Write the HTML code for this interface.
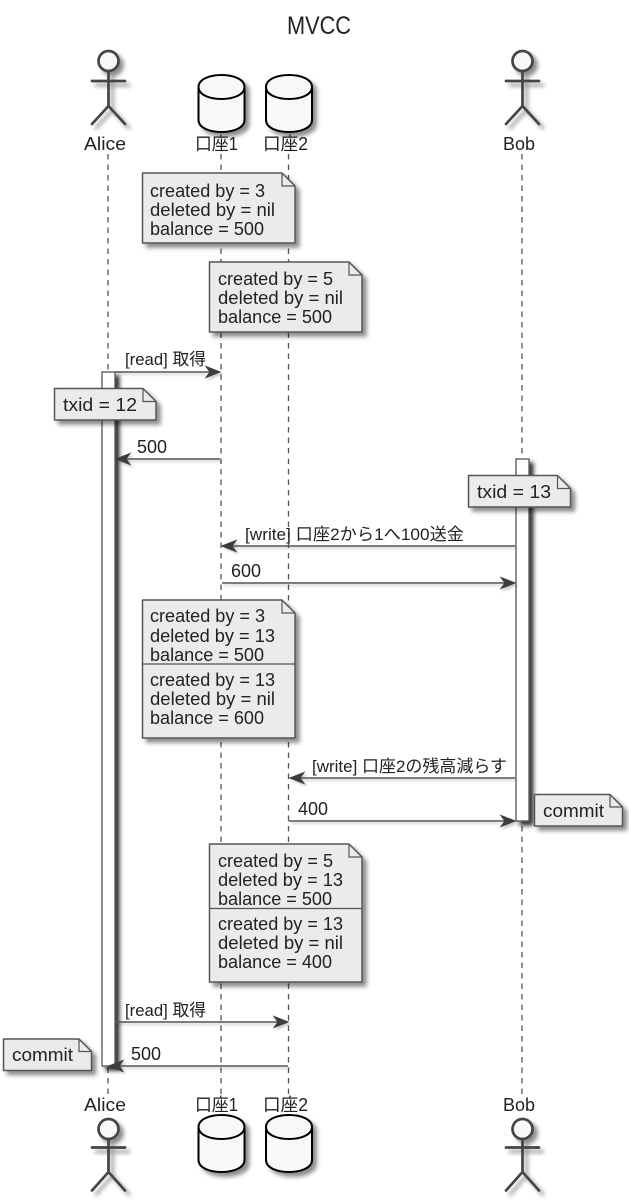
<!DOCTYPE html>
<html><head><meta charset="utf-8"><title>MVCC</title>
<style>
html,body{margin:0;padding:0;background:#fff}
svg{display:block}
text{font-family:"Liberation Sans","Noto Sans CJK JP",sans-serif;fill:#222;font-size:18px}
.ll{stroke:#555;stroke-width:1.3;stroke-dasharray:5.5,5;fill:none}
.n{fill:#ebebeb;stroke:#555;stroke-width:1.5;stroke-linejoin:round}
.f{fill:none;stroke:#555;stroke-width:1.2}
.a{fill:#fff;stroke:#555;stroke-width:1.3}
.m{stroke:#555;stroke-width:1.5;fill:none}
.h{fill:#3c3c3c;stroke:#3c3c3c;stroke-width:1}
.act{fill:#f8f8f8;stroke:#444;stroke-width:2.7;stroke-linecap:round}
.db{fill:#f8f8f8;stroke:#000;stroke-width:2}
.t{font-size:17px}
.v{font-size:18px}
</style></head>
<body>
<svg width="629" height="1200" viewBox="0 0 629 1200" xmlns="http://www.w3.org/2000/svg">
<defs>
<filter id="s" x="-30%" y="-30%" width="170%" height="170%"><feDropShadow dx="4" dy="4" stdDeviation="2.2" flood-color="#000" flood-opacity=".45"/></filter>
<filter id="sa" x="-100%" y="-5%" width="300%" height="110%"><feDropShadow dx="4" dy="4" stdDeviation="2" flood-color="#000" flood-opacity=".8"/></filter>
<filter id="sm" x="-5%" y="-5%" width="110%" height="110%"><feDropShadow dx="2" dy="2" stdDeviation="1.2" flood-color="#000" flood-opacity=".22"/></filter>
</defs>
<text x="319" y="34" text-anchor="middle" style="font-size:25px" textLength="64" lengthAdjust="spacingAndGlyphs">MVCC</text>

<path class="ll" d="M108 154V1095M221 154V1095M288.5 154V1095M522 154V1095"/>

<!-- top actors -->
<g filter="url(#s)">
<g class="act"><circle cx="108.5" cy="61" r="10"/><path fill="none" d="M108.5 71V106M92 81H125M108.5 106L92 124M108.5 106L125 124"/></g>
<g class="act"><circle cx="522.5" cy="61" r="10"/><path fill="none" d="M522.5 71V106M506 81H539M522.5 106L506 124M522.5 106L539 124"/></g>
<g class="db"><path d="M198.5 87C198.5 71 244.5 71 244.5 87V120C244.5 136 198.5 136 198.5 120Z"/><path fill="none" d="M198.5 87C198.5 103 244.5 103 244.5 87"/></g>
<g class="db"><path d="M266 87C266 71 312 71 312 87V120C312 136 266 136 266 120Z"/><path fill="none" d="M266 87C266 103 312 103 312 87"/></g>
</g>
<text x="84" y="150" textLength="42" lengthAdjust="spacingAndGlyphs">Alice</text>
<text x="195" y="150" textLength="43" lengthAdjust="spacingAndGlyphs">口座1</text>
<text x="263" y="150" textLength="45" lengthAdjust="spacingAndGlyphs">口座2</text>
<text x="503" y="150" textLength="32" lengthAdjust="spacingAndGlyphs">Bob</text>

<!-- bottom actors -->
<g filter="url(#s)">
<g class="act"><circle cx="108.5" cy="1129" r="10"/><path fill="none" d="M108.5 1139V1172M92 1147.500H125M108.500 1172L92 1190.500M108.500 1172L125 1190.500"/></g>
<g class="act"><circle cx="522.500" cy="1129" r="10"/><path fill="none" d="M522.500 1139V1172M506 1147.500H539M522.500 1172L506 1190.500M522.500 1172L539 1190.500"/></g>
<g class="db"><path d="M198.500 1127C198.500 1111 244.500 1111 244.500 1127V1160C244.500 1176 198.500 1176 198.500 1160Z"/><path fill="none" d="M198.500 1127C198.500 1143 244.500 1143 244.500 1127"/></g>
<g class="db"><path d="M266 1127C266 1111 312 1111 312 1127V1160C312 1176 266 1176 266 1160Z"/><path fill="none" d="M266 1127C266 1143 312 1143 312 1127"/></g>
</g>
<text x="84" y="1111" textLength="42" lengthAdjust="spacingAndGlyphs">Alice</text>
<text x="195" y="1111" textLength="43" lengthAdjust="spacingAndGlyphs">口座1</text>
<text x="263" y="1111" textLength="45" lengthAdjust="spacingAndGlyphs">口座2</text>
<text x="503" y="1111" textLength="32" lengthAdjust="spacingAndGlyphs">Bob</text>

<!-- activations -->
<rect class="a" x="102" y="372" width="13" height="694" filter="url(#sa)"/>
<rect class="a" x="516" y="459" width="13" height="362" filter="url(#sa)"/>

<!-- messages -->
<g filter="url(#sm)">
<path class="m" d="M115 372H219M115 459H220M222 546H515M222 583H514M290 778H515M289 821H515M115 1022H287M110 1066H288"/>
<path class="h" d="M220 372L206 366.500L210 372L206 377.500Z"/>
<path class="h" d="M116 459L130 453.500L126 459L130 464.500Z"/>
<path class="h" d="M222 546L236 540.500L232 546L236 551.500Z"/>
<path class="h" d="M515 583L501 577.500L505 583L501 588.500Z"/>
<path class="h" d="M290 778L304 772.500L300 778L304 783.500Z"/>
<path class="h" d="M515 821L501 815.500L505 821L501 826.500Z"/>
<path class="h" d="M288 1022L274 1016.500L278 1022L274 1027.500Z"/>
<path class="h" d="M109 1066L123 1060.500L119 1066L123 1071.500Z"/>
</g>

<text class="t" x="125" y="365" textLength="81" lengthAdjust="spacingAndGlyphs">[read] 取得</text>
<text class="v" x="137" y="453" textLength="30" lengthAdjust="spacingAndGlyphs">500</text>
<text class="t" x="245" y="540" textLength="219" lengthAdjust="spacingAndGlyphs">[write] 口座2から1へ100送金</text>
<text class="v" x="231" y="577" textLength="30" lengthAdjust="spacingAndGlyphs">600</text>
<text class="t" x="312" y="772" textLength="195" lengthAdjust="spacingAndGlyphs">[write] 口座2の残高減らす</text>
<text class="v" x="298" y="815" textLength="30" lengthAdjust="spacingAndGlyphs">400</text>
<text class="t" x="125" y="1016" textLength="81" lengthAdjust="spacingAndGlyphs">[read] 取得</text>
<text class="v" x="131" y="1060" textLength="30" lengthAdjust="spacingAndGlyphs">500</text>

<!-- notes -->
<g filter="url(#s)"><path class="n" d="M142.500 173H282L295 186V243H142.500Z"/></g>
<path class="f" d="M282 173V186H295"/>
<text x="150" y="197" textLength="115" lengthAdjust="spacingAndGlyphs">created by = 3</text>
<text x="150" y="216" textLength="125" lengthAdjust="spacingAndGlyphs">deleted by = nil</text>
<text x="150" y="235" textLength="114" lengthAdjust="spacingAndGlyphs">balance = 500</text>

<g filter="url(#s)"><path class="n" d="M209.500 262H349L362 275V332H209.500Z"/></g>
<path class="f" d="M349 262V275H362"/>
<text x="218" y="285" textLength="115" lengthAdjust="spacingAndGlyphs">created by = 5</text>
<text x="218" y="304" textLength="125" lengthAdjust="spacingAndGlyphs">deleted by = nil</text>
<text x="218" y="323" textLength="114" lengthAdjust="spacingAndGlyphs">balance = 500</text>

<g filter="url(#s)"><path class="n" d="M54.500 388.500H143L156 401.500V420H54.500Z"/></g>
<path class="f" d="M143 388.500V401.500H156"/>
<text x="63" y="411" textLength="74" lengthAdjust="spacingAndGlyphs">txid = 12</text>

<g filter="url(#s)"><path class="n" d="M468.500 475.500H557.500L570.500 488.500V507H468.500Z"/></g>
<path class="f" d="M557.500 475.500V488.500H570.500"/>
<text x="477" y="498" textLength="74" lengthAdjust="spacingAndGlyphs">txid = 13</text>

<g filter="url(#s)"><path class="n" d="M142.500 600H282L295 613V738H142.500Z"/></g>
<path class="f" d="M282 600V613H295M142.500 664H295"/>
<text x="150" y="622" textLength="115" lengthAdjust="spacingAndGlyphs">created by = 3</text>
<text x="150" y="642" textLength="125" lengthAdjust="spacingAndGlyphs">deleted by = 13</text>
<text x="150" y="661" textLength="114" lengthAdjust="spacingAndGlyphs">balance = 500</text>
<text x="150" y="686" textLength="125" lengthAdjust="spacingAndGlyphs">created by = 13</text>
<text x="150" y="705" textLength="125" lengthAdjust="spacingAndGlyphs">deleted by = nil</text>
<text x="150" y="724" textLength="114" lengthAdjust="spacingAndGlyphs">balance = 600</text>

<g filter="url(#s)"><path class="n" d="M534.500 794.500H610L622.500 807V826H534.500Z"/></g>
<path class="f" d="M610 794.500V807H622.500"/>
<text x="543" y="817" textLength="61" lengthAdjust="spacingAndGlyphs">commit</text>

<g filter="url(#s)"><path class="n" d="M209.500 844H349L362 857V982H209.500Z"/></g>
<path class="f" d="M349 844V857H362M209.500 908.500H362"/>
<text x="218" y="867" textLength="115" lengthAdjust="spacingAndGlyphs">created by = 5</text>
<text x="218" y="886" textLength="125" lengthAdjust="spacingAndGlyphs">deleted by = 13</text>
<text x="218" y="905" textLength="114" lengthAdjust="spacingAndGlyphs">balance = 500</text>
<text x="218" y="930" textLength="125" lengthAdjust="spacingAndGlyphs">created by = 13</text>
<text x="218" y="949" textLength="125" lengthAdjust="spacingAndGlyphs">deleted by = nil</text>
<text x="218" y="968" textLength="114" lengthAdjust="spacingAndGlyphs">balance = 400</text>

<g filter="url(#s)"><path class="n" d="M3.500 1039H79L91.500 1051.500V1070.500H3.500Z"/></g>
<path class="f" d="M79 1039V1051.500H91.500"/>
<text x="12" y="1061" textLength="61" lengthAdjust="spacingAndGlyphs">commit</text>
</svg>
</body></html>
